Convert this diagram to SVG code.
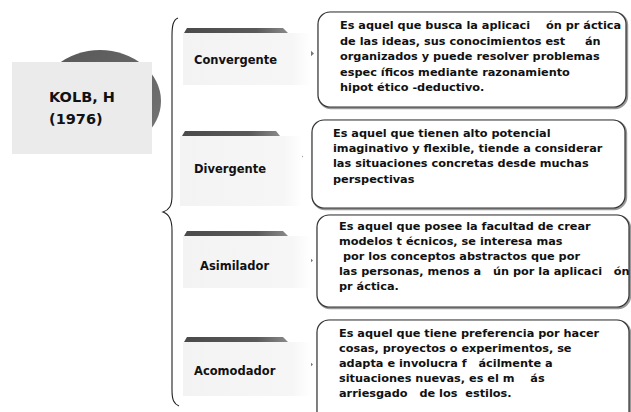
<svg xmlns="http://www.w3.org/2000/svg" width="631" height="412" viewBox="0 0 631 412">
<defs>
<linearGradient id="bar" x1="0" y1="0" x2="1" y2="0">
<stop offset="0" stop-color="#4a4a4a"/><stop offset="0.7" stop-color="#5a5a5a"/><stop offset="1" stop-color="#8a8a8a"/>
</linearGradient>
<linearGradient id="ell" x1="0" y1="0" x2="1" y2="1">
<stop offset="0" stop-color="#555"/><stop offset="1" stop-color="#777"/>
</linearGradient>
<linearGradient id="lbl" x1="0" y1="0" x2="1" y2="0">
<stop offset="0" stop-color="#f3f3f3"/><stop offset="0.85" stop-color="#f6f6f6"/><stop offset="1" stop-color="#ffffff"/>
</linearGradient>
</defs>
<style>
.t{font-family:"DejaVu Sans","Verdana",sans-serif;font-weight:bold;fill:#111;}
.d{font-size:11.3px;white-space:pre;}
.l{font-size:11.5px;}
.k{font-size:14.5px;}
.box{fill:#fff;stroke:#333;stroke-width:1.2;}
.sh{fill:none;stroke:#999;stroke-width:2.4;}
.bar{fill:url(#bar);}
.lab{fill:url(#lbl);}
.arr{fill:#777;}
</style>
<rect width="631" height="412" fill="#fff"/>
<g id="kolb">
<ellipse cx="100" cy="101" rx="61" ry="51" fill="url(#ell)"/>
<rect x="12" y="62" width="140" height="92" fill="#ebebeb"/>
<text class="t k" x="49" y="102">KOLB, H</text>
<text class="t k" x="49" y="124">(1976)</text>
</g>
<g id="connectors">
<path d="M178,18 C173,20 172,26 172,36 L172,196 C172,206 169,210 163,212 C169,214 172,220 172,230 L172,390 C172,400 174,404 179,406" fill="none" stroke="#222" stroke-width="1.1"/>
<polygon class="arr" points="309,49 314,53.5 309,58"/>
<polygon class="arr" points="298,152 303,156.5 298,161"/>
<polygon class="arr" points="308,256 313,260.5 308,265"/>
<polygon class="arr" points="308,360 313,364.5 308,369"/>
</g>
<g id="convergente">
<rect class="lab" x="183" y="33" width="128" height="52"/>
<polygon class="bar" points="187,28 283,28 288,33 184,33"/>
<text class="t l" x="194" y="64">Convergente</text>
</g>
<g id="divergente">
<rect class="lab" x="180" y="136" width="122" height="70"/>
<polygon class="bar" points="185,131 276,131 280,136 182,136"/>
<text class="t l" x="194" y="173">Divergente</text>
</g>
<g id="asimilador">
<rect class="lab" x="183" y="236" width="128" height="52"/>
<polygon class="bar" points="187,231 283,231 288,236 184,236"/>
<text class="t l" x="200" y="270">Asimilador</text>
</g>
<g id="acomodador">
<rect class="lab" x="183" y="342" width="128" height="54"/>
<polygon class="bar" points="187,337 283,337 288,342 184,342"/>
<text class="t l" x="194" y="375">Acomodador</text>
</g>
<g id="desc1">
<rect class="sh" x="319" y="13" width="308" height="95" rx="12"/>
<rect class="box" x="318" y="12" width="308" height="95" rx="12"/>
<text class="t d" x="340" y="29">Es aquel que busca la aplicaci    ón pr áctica</text>
<text class="t d" x="340" y="45">de las ideas, sus conocimientos est     án</text>
<text class="t d" x="340" y="60">organizados y puede resolver problemas</text>
<text class="t d" x="340" y="76">espec íficos mediante razonamiento</text>
<text class="t d" x="340" y="91">hipot ético -deductivo.</text>
</g>
<g id="desc2">
<rect class="sh" x="313" y="121" width="313" height="88" rx="12"/>
<rect class="box" x="312" y="120" width="313" height="88" rx="12"/>
<text class="t d" x="333" y="137">Es aquel que tienen alto potencial</text>
<text class="t d" x="333" y="152">imaginativo y flexible, tiende a considerar</text>
<text class="t d" x="333" y="167">las situaciones concretas desde muchas</text>
<text class="t d" x="333" y="183">perspectivas</text>
</g>
<g id="desc3">
<rect class="sh" x="318" y="216" width="312" height="92" rx="12"/>
<rect class="box" x="317" y="215" width="312" height="92" rx="12"/>
<text class="t d" x="339" y="230">Es aquel que posee la facultad de crear</text>
<text class="t d" x="339" y="245">modelos t écnicos, se interesa mas</text>
<text class="t d" x="339" y="260"> por los conceptos abstractos que por</text>
<text class="t d" x="339" y="275">las personas, menos a   ún por la aplicaci   ón</text>
<text class="t d" x="339" y="290">pr áctica.</text>
</g>
<g id="desc4">
<rect class="sh" x="318" y="321" width="312" height="110" rx="12"/>
<rect class="box" x="317" y="320" width="312" height="110" rx="12"/>
<text class="t d" x="339" y="337">Es aquel que tiene preferencia por hacer</text>
<text class="t d" x="339" y="352">cosas, proyectos o experimentos, se</text>
<text class="t d" x="339" y="367">adapta e involucra f   ácilmente a</text>
<text class="t d" x="339" y="382">situaciones nuevas, es el m    ás</text>
<text class="t d" x="339" y="397">arriesgado   de los  estilos.</text>
</g>
</svg>
